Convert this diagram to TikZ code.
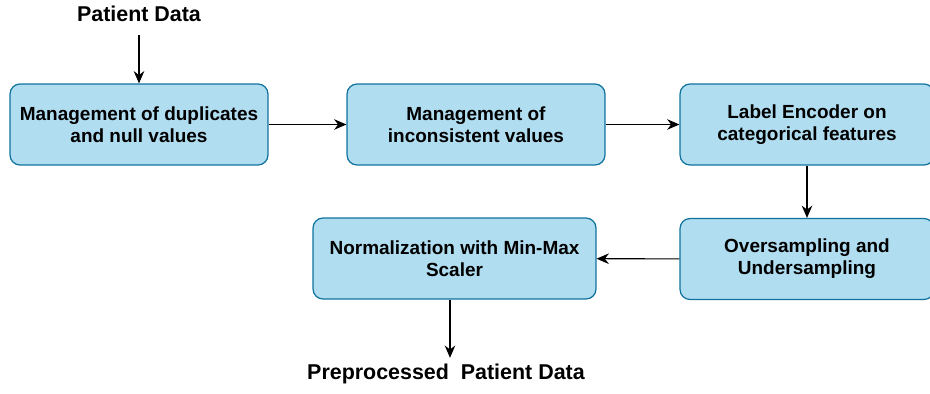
\documentclass[tikz,border=0pt]{standalone}
\usepackage{fontspec}
\setmainfont{Liberation Sans}
\usetikzlibrary{arrows.meta}
\definecolor{boxfill}{HTML}{B1DDF0}
\definecolor{boxline}{HTML}{10739E}
\tikzset{
	stage/.style={draw=boxline, fill=boxfill, rounded corners=0.2cm, line width=0.7pt, minimum height=1.62cm, inner sep=0pt, align=center, font=\bfseries\fontsize{10.8}{12.5}\selectfont},
	flow/.style={-{Stealth[length=7pt,width=6pt]}, line width=0.6pt},
	io/.style={font=\bfseries\fontsize{12.2}{14}\selectfont}
}
\begin{document}
\begin{tikzpicture}[x=0.02cm, y=-0.02cm]
	\useasboundingbox (0, 0) rectangle (930, 393);
	\node[io] (in) at (139, 14) {Patient Data};
	\node[stage, minimum width=5.16cm] (dup) at (139, 124.5) {Management of duplicates\\and null values};
	\node[stage, minimum width=5.16cm] (incons) at (476, 124.5) {Management of\\inconsistent values};
	\node[stage, minimum width=5.08cm] (enc) at (807, 124.5) {Label Encoder on\\categorical features};
	\node[stage, minimum width=5.08cm] (samp) at (807, 259) {Oversampling and\\Undersampling};
	\node[stage, minimum width=5.66cm] (norm) at (454.5, 258.5) {Normalization with Min-Max\\Scaler};
	\node[io] (out) at (446, 374) {Preprocessed\ \ Patient Data};

	\draw[flow, shorten <=4pt] (in) -- (dup);
	\draw[flow] (dup) -- (incons);
	\draw[flow] (incons) -- (enc);
	\draw[flow] (enc) -- (samp);
	\draw[flow] (samp) -- (norm);
	\draw[flow] ([xshift=-0.09cm]norm.south) -- ([xshift=-0.09cm]norm.south |- out.north);
\end{tikzpicture}
\end{document}
